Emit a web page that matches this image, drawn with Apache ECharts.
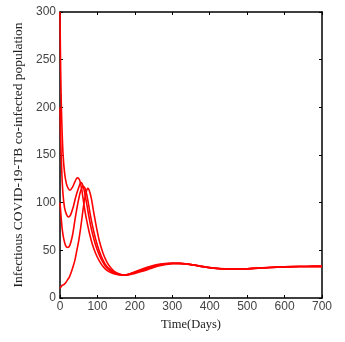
<!DOCTYPE html>
<html>
<head>
<meta charset="utf-8">
<script src="https://cdn.jsdelivr.net/npm/echarts@6/dist/echarts.min.js"></script>
<style>
  html, body { margin: 0; padding: 0; background: #fff; }
  #main { width: 345px; height: 342px; }
</style>
</head>
<body>
<div id="main"></div>
<script>
// time points (days) and values for each trajectory
var tA = [0, 1, 3, 5, 8, 12, 17, 22, 27, 33, 40, 46, 52, 58, 64, 70, 78, 86, 95, 105, 115, 125, 140, 155, 170];
var vA = [300, 262, 212, 182, 152, 132, 120, 115, 113, 116, 122, 126, 124, 114, 98, 84, 69, 57, 47, 39, 33, 29, 26, 24.5, 24];

var tB = [0, 2, 5, 8, 12, 17, 22, 28, 35, 42, 50, 56, 62, 69, 76, 84, 94, 104, 114, 124, 138, 153, 170];
var vB = [200, 165, 130, 109, 95, 88, 85, 87, 95, 106, 116, 121, 117, 104, 88, 72, 57, 46, 38, 32, 27.5, 25, 24];

var tC = [0, 3, 6, 10, 15, 20, 26, 33, 40, 48, 55, 62, 68, 75, 82, 90, 100, 110, 120, 130, 145, 160, 175];
var vC = [100, 85, 72, 62, 55, 53, 55, 65, 82, 100, 112, 117, 114, 101, 85, 70, 55, 44, 36, 31, 27, 25, 24];

var tD = [0, 5, 10, 15, 20, 25, 30, 35, 40, 45, 50, 55, 60, 65, 70, 74, 78, 84, 90, 97, 105, 115, 125, 135, 145, 160, 175];
var vD = [10, 13, 14, 16, 19, 22, 27, 33, 40, 50, 60, 73, 88, 102, 111, 115, 113, 104, 90, 75, 60, 47, 38, 32, 28, 25, 24];

// long-term tail shared by all trajectories (small spread per curve)
var tTail = [185, 200, 220, 240, 260, 280, 300, 320, 340, 360, 380, 400, 420, 440, 460, 480, 500, 540, 580, 620, 660, 700];
var vTailA = [24.5, 25.8, 28, 30.6, 33.2, 35, 36, 36.2, 35.7, 34.6, 33.2, 32, 31.1, 30.6, 30.3, 30.3, 30.6, 31.5, 32.3, 32.8, 33.1, 33.2];
var vTailB = [24.8, 26.5, 29, 31.6, 34, 35.6, 36.3, 36.3, 35.7, 34.5, 33.1, 31.9, 31, 30.5, 30.3, 30.3, 30.6, 31.5, 32.3, 32.8, 33.1, 33.2];
var vTailC = [25, 27, 29.8, 32.3, 34.6, 35.9, 36.4, 36.3, 35.6, 34.4, 33, 31.8, 31, 30.5, 30.3, 30.4, 30.7, 31.6, 32.4, 32.9, 33.1, 33.2];
var vTailD = [25.3, 27.6, 30.5, 33, 35, 36.2, 36.5, 36.2, 35.5, 34.3, 32.9, 31.8, 31, 30.5, 30.3, 30.4, 30.7, 31.6, 32.4, 32.9, 33.1, 33.2];

var xTicks = [0, 100, 200, 300, 400, 500, 600, 700];
var yTicks = [0, 50, 100, 150, 200, 250, 300];

function pairs(ts, vs, tt, vt) {
  var out = [];
  for (var i = 0; i < ts.length; i++) out.push([ts[i], vs[i]]);
  for (var j = 0; j < tt.length; j++) out.push([tt[j], vt[j]]);
  return out;
}

var chart = echarts.init(document.getElementById('main'));

var tickFont = { fontFamily: 'Liberation Sans, Arial, sans-serif', fontSize: 12, color: '#444' };
var lineStyle = { color: '#000', width: 1.5 };

function mkSeries(data) {
  return {
    type: 'line',
    data: data,
    smooth: 0.3,
    showSymbol: false,
    symbol: 'none',
    lineStyle: { color: '#ff0000', width: 1.6 },
    animation: false
  };
}

option = {
  animation: false,
  grid: { left: 60, right: 23, top: 12, bottom: 44 },
  xAxis: [
    {
      type: 'value', min: 0, max: 700, interval: 100,
      name: 'Time(Days)', nameLocation: 'middle', nameGap: 18,
      nameTextStyle: { fontFamily: 'Liberation Serif, Times New Roman, serif', fontSize: 12.5, color: '#222' },
      axisLine: { show: true, onZero: false, lineStyle: lineStyle },
      axisTick: { show: true, inside: true, length: 3, lineStyle: { color: '#000' } },
      axisLabel: Object.assign({ margin: 3, formatter: function (v) { return xTicks.indexOf(v) >= 0 ? String(v) : ''; } }, tickFont),
      splitLine: { show: false }
    },
    {
      type: 'value', min: 0, max: 700, interval: 100, position: 'top',
      axisLine: { show: true, onZero: false, lineStyle: lineStyle },
      axisTick: { show: true, inside: true, length: 3, lineStyle: { color: '#000' } },
      axisLabel: { show: false },
      splitLine: { show: false }
    }
  ],
  yAxis: [
    {
      type: 'value', min: 0, max: 300, interval: 50,
      name: 'Infectious COVID-19-TB co-infected population', nameLocation: 'middle', nameGap: 27,
      nameTextStyle: { fontFamily: 'Liberation Serif, Times New Roman, serif', fontSize: 13.5, color: '#222' },
      axisLine: { show: true, onZero: false, lineStyle: lineStyle },
      axisTick: { show: true, inside: true, length: 3, lineStyle: { color: '#000' } },
      axisLabel: Object.assign({ margin: 4, formatter: function (v) { return yTicks.indexOf(v) >= 0 ? String(v) : ''; } }, tickFont),
      splitLine: { show: false }
    },
    {
      type: 'value', min: 0, max: 300, interval: 50, position: 'right',
      axisLine: { show: true, onZero: false, lineStyle: lineStyle },
      axisTick: { show: true, inside: true, length: 3, lineStyle: { color: '#000' } },
      axisLabel: { show: false },
      splitLine: { show: false }
    }
  ],
  series: [
    mkSeries(pairs(tA, vA, tTail, vTailA)),
    mkSeries(pairs(tB, vB, tTail, vTailB)),
    mkSeries(pairs(tC, vC, tTail, vTailC)),
    mkSeries(pairs(tD, vD, tTail, vTailD))
  ]
};
chart.setOption(option);
</script>
</body>
</html>
